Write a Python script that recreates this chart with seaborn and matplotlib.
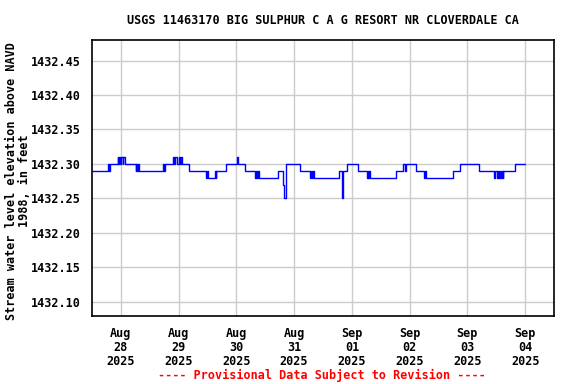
import numpy as np
import pandas as pd
import matplotlib
matplotlib.use("Agg")
import matplotlib.pyplot as plt
import matplotlib.dates as mdates
import seaborn as sns

# Step breakpoints: hours relative to 2025-08-28 00:00, and gage height (ft)
hours = [-12.0, -5.3, -4.8, -4.5, -1.4, -1.0, -0.75, -0.25, 0.25, 0.75, 1.0, 1.9,
         6.1, 6.4, 6.8, 7.0, 7.6,
         17.6, 17.9, 18.3, 19.0, 21.5, 22.2, 22.6, 23.5, 24.0, 24.6, 25.0, 25.3,
         28.3, 35.4, 35.8, 36.2, 39.2, 39.4, 39.6,
         43.75, 48.2, 48.6, 51.7, 55.8, 56.2, 56.6, 57.0, 57.5,
         65.1, 67.3, 67.9, 68.5, 74.6, 78.75, 79.1, 79.5, 79.8, 80.2,
         90.5, 91.7, 92.0, 92.4, 94.0, 98.5, 102.1, 102.5, 102.9, 103.3, 103.6,
         114.2, 117.4, 117.9, 118.5, 122.6, 126.0, 126.4, 126.9,
         138.2, 141.0, 148.9, 155.1, 155.6, 156.3, 156.7, 157.1, 157.5, 157.9,
         158.3, 158.6, 159.0, 163.9, 168.0]
values = [1432.29, 1432.30, 1432.29, 1432.30, 1432.31, 1432.30, 1432.31, 1432.30, 1432.31, 1432.30, 1432.31, 1432.30,
          1432.29, 1432.30, 1432.29, 1432.30, 1432.29,
          1432.30, 1432.29, 1432.30, 1432.30, 1432.31, 1432.30, 1432.31, 1432.30, 1432.31, 1432.30, 1432.31, 1432.30,
          1432.29, 1432.28, 1432.29, 1432.28, 1432.29, 1432.28, 1432.29,
          1432.30, 1432.31, 1432.30, 1432.29, 1432.28, 1432.29, 1432.28, 1432.29, 1432.28,
          1432.29, 1432.27, 1432.25, 1432.30, 1432.29, 1432.28, 1432.29, 1432.28, 1432.29, 1432.28,
          1432.29, 1432.27, 1432.25, 1432.29, 1432.30, 1432.29, 1432.28, 1432.29, 1432.28, 1432.29, 1432.28,
          1432.29, 1432.30, 1432.29, 1432.30, 1432.29, 1432.28, 1432.29, 1432.28,
          1432.29, 1432.30, 1432.29, 1432.28, 1432.29, 1432.28, 1432.29, 1432.28, 1432.29, 1432.28,
          1432.29, 1432.28, 1432.29, 1432.30, 1432.30]

tick_days = ["2025-08-28", "2025-08-29", "2025-08-30", "2025-08-31",
             "2025-09-01", "2025-09-02", "2025-09-03", "2025-09-04"]
tick_labels = ["Aug\n28\n2025", "Aug\n29\n2025", "Aug\n30\n2025", "Aug\n31\n2025",
               "Sep\n01\n2025", "Sep\n02\n2025", "Sep\n03\n2025", "Sep\n04\n2025"]
y_ticks = [1432.10, 1432.15, 1432.20, 1432.25, 1432.30, 1432.35, 1432.40, 1432.45]

base = pd.Timestamp("2025-08-28 00:00")
df = pd.DataFrame({"time": [base + pd.Timedelta(hours=h) for h in hours],
                   "value": values})

sns.set_style("white")
plt.rcParams["font.family"] = ["DejaVu Sans Mono"]
plt.rcParams["font.weight"] = "bold"
for k in ["text.color", "axes.labelcolor", "xtick.color", "ytick.color"]:
    plt.rcParams[k] = "black"

FS = 8.5
fig = plt.figure(figsize=(5.76, 3.84), dpi=100)
ax = fig.add_axes([92/576, 1 - 316/384, (554-92)/576, (316-39.5)/384])

sns.lineplot(data=df, x="time", y="value", ax=ax, color="#0000ff", linewidth=1.0,
             drawstyle="steps-post", estimator=None, sort=False)

ax.set_xlim(pd.Timestamp("2025-08-27 12:00"), pd.Timestamp("2025-09-04 12:00"))
ax.set_ylim(1432.0795, 1432.4805)
ax.set_xticks([pd.Timestamp(d) for d in tick_days])
ax.set_xticklabels(tick_labels, fontsize=FS, fontweight="bold", linespacing=1.1)
ax.set_yticks(y_ticks)
ax.set_yticklabels([f"{v:.2f}" for v in y_ticks], fontsize=FS, fontweight="bold")
ax.grid(True, color="#cccccc", linewidth=1.0)
ax.set_axisbelow(True)
ax.tick_params(axis="both", length=0, pad=8)
for s in ax.spines.values():
    s.set_color("black")
    s.set_linewidth(1.2)
ax.set_xlabel("")
ax.set_ylabel("")

fig.text(18/576, 1 - 181/384, "Stream water level elevation above NAVD\n1988, in feet",
         ha="center", va="center", rotation=90, fontsize=FS, fontweight="bold",
         linespacing=1.0, multialignment="center")
fig.text(323/576, 1 - 20/384, "USGS 11463170 BIG SULPHUR C A G RESORT NR CLOVERDALE CA",
         ha="center", va="center", fontsize=FS, fontweight="bold")
fig.text(322/576, 1 - 375/384, "---- Provisional Data Subject to Revision ----",
         ha="center", va="center", fontsize=FS, fontweight="bold", color="red")

fig.savefig("out.png", dpi=100)
